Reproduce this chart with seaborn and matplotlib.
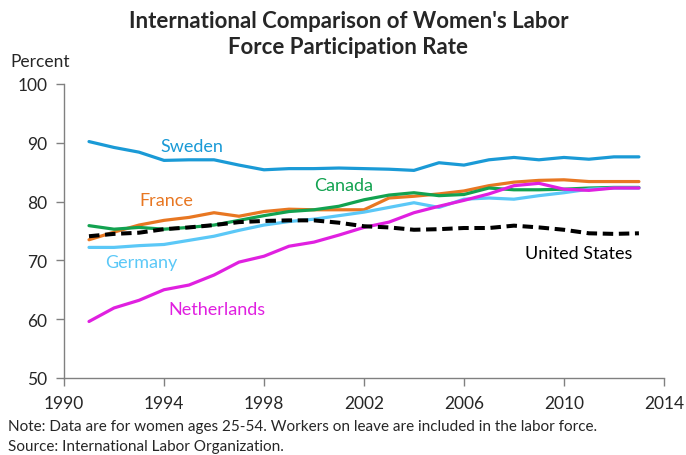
import pandas as pd
import numpy as np
import seaborn as sns
import matplotlib.pyplot as plt

years = list(range(1991, 2014))

sweden = [90.2, 89.2, 88.4, 87.0, 87.1, 87.1, 86.2, 85.4, 85.6, 85.6, 85.7,
          85.6, 85.5, 85.3, 86.6, 86.2, 87.1, 87.5, 87.1, 87.5, 87.2, 87.6, 87.6]
france = [73.5, 74.8, 76.0, 76.8, 77.3, 78.1, 77.5, 78.3, 78.7, 78.6, 78.6,
          78.6, 80.6, 80.9, 81.3, 81.8, 82.7, 83.3, 83.6, 83.7, 83.4, 83.4, 83.4]
canada = [75.9, 75.3, 75.6, 75.3, 75.6, 76.0, 76.8, 77.6, 78.3, 78.6, 79.2,
          80.3, 81.1, 81.5, 81.0, 81.2, 82.3, 82.0, 82.0, 82.1, 82.3, 82.4, 82.4]
germany = [72.2, 72.2, 72.5, 72.7, 73.4, 74.1, 75.1, 76.0, 76.6, 77.0, 77.6,
           78.2, 79.0, 79.8, 79.0, 80.4, 80.6, 80.4, 81.0, 81.5, 82.1, 82.3, 82.3]
netherlands = [59.6, 61.9, 63.2, 65.0, 65.8, 67.5, 69.7, 70.7, 72.4, 73.1, 74.3,
               75.6, 76.5, 78.1, 79.2, 80.2, 81.3, 82.7, 83.1, 82.1, 81.9, 82.3, 82.3]
united_states = [74.1, 74.5, 74.7, 75.3, 75.6, 76.0, 76.5, 76.7, 76.8, 76.8, 76.4,
                 75.8, 75.6, 75.2, 75.3, 75.5, 75.5, 75.9, 75.6, 75.2, 74.6, 74.5, 74.6]

countries = ['Sweden', 'France', 'Canada', 'Germany', 'Netherlands', 'United States']
series = [sweden, france, canada, germany, netherlands, united_states]
colors = ['#1a9ad6', '#e87722', '#12a250', '#5bc8f7', '#e020e0', '#000000']

x_ticks = [1990, 1994, 1998, 2002, 2006, 2010, 2014]
y_ticks = [50, 60, 70, 80, 90, 100]

df = pd.concat([pd.DataFrame({'year': years, 'rate': s, 'country': c})
                for c, s in zip(countries, series)], ignore_index=True)

sns.set_style('white')
plt.rcParams['font.family'] = ['Lato', 'DejaVu Sans']

fig = plt.figure(figsize=(6.86, 4.56), dpi=100)
ax = fig.add_axes([0.0933, 0.169, 0.8745, 0.6447])

palette = dict(zip(countries, colors))
dashes = {c: '' for c in countries}
dashes['United States'] = (2.6, 1.4)
sns.lineplot(data=df, x='year', y='rate', hue='country', style='country',
             palette=palette, dashes=dashes, linewidth=2.3, legend=False, ax=ax)
# thicker dashed US line
ax.lines[-1].set_linewidth(2.9)

ax.set_xlim(1990, 2014)
ax.set_ylim(50, 100)
ax.set_xticks(x_ticks)
ax.set_yticks(y_ticks)
ax.set_xlabel('')
ax.set_ylabel('')
sns.despine(ax=ax)
for s in ['left', 'bottom']:
    ax.spines[s].set_color('#808080')
    ax.spines[s].set_linewidth(1.0)
ax.tick_params(axis='both', direction='out', length=6, width=1.0,
               color='#808080', labelsize=12.5, pad=6, left=True, bottom=True)

# series labels
labels = [('Sweden', 1995.1, 89.5), ('France', 1994.1, 80.3),
          ('Canada', 2001.2, 82.8), ('Germany', 1993.1, 69.7),
          ('Netherlands', 1996.1, 61.7), ('United States', 2010.6, 71.3)]
for name, lx, ly in labels:
    ax.text(lx, ly, name, color=palette[name], fontsize=13,
            ha='center', va='center')

fig.text(0.508, 0.925, "International Comparison of Women's Labor\nForce Participation Rate",
         ha='center', va='center', fontsize=16, fontweight='bold', linespacing=1.3)
fig.text(0.015, 0.865, 'Percent', fontsize=12.5, ha='left', va='center')
fig.text(0.012, 0.064, 'Note: Data are for women ages 25-54. Workers on leave are included in the labor force.',
         fontsize=11, ha='left', va='center')
fig.text(0.012, 0.02, 'Source: International Labor Organization.',
         fontsize=11, ha='left', va='center')

fig.savefig('out.png', dpi=100)
